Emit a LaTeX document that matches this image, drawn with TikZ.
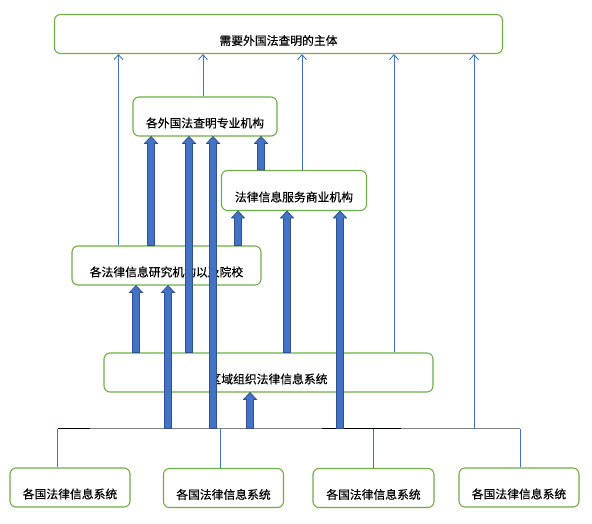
\documentclass[tikz,border=0pt]{standalone}
\usepackage{fontspec}
\setmainfont{Noto Sans CJK SC}
\newfontfamily\boxfont{Noto Sans CJK SC}[FakeBold=0.35]
\usetikzlibrary{arrows.meta,calc}
\definecolor{boxgreen}{HTML}{70AD47}
\definecolor{lineblue}{HTML}{4472C4}
\definecolor{edgeblue}{HTML}{2F528F}
\definecolor{busgray}{HTML}{808080}
\tikzset{
  box/.style={draw=boxgreen, line width=1.1pt, rounded corners=6pt, fill=white,
    inner sep=0pt, font=\boxfont\fontsize{11.8pt}{12pt}\selectfont, text height=22pt, text depth=0pt},
  thinarr/.style={draw=lineblue, line width=0.9pt, -{Straight Barb[length=5pt,width=9pt,line width=0.9pt]}},
  thinline/.style={draw=lineblue, line width=0.9pt},
  blockarr/.style={fill=lineblue, draw=edgeblue, line width=0.8pt, line join=miter},
  busline/.style={line width=1.2pt},
}
\newcommand\upblock[2]{%
  \path[blockarr] let \p1=#1, \p2=#2 in
    ({\x1-3.5pt},\y1) -- ({\x1-3.5pt},{\y2-7pt}) -- ({\x1-6.5pt},{\y2-7pt}) --
    (\x1,\y2) -- ({\x1+6.5pt},{\y2-7pt}) -- ({\x1+3.5pt},{\y2-7pt}) --
    ({\x1+3.5pt},\y1) -- cycle;}
\begin{document}
\begin{tikzpicture}[x=1pt,y=-1pt]
\useasboundingbox (0,0) rectangle (592,524);
% boxes
\node[box, minimum width=448pt, minimum height=39pt] (top) at (278.5,34) {需要外国法查明的主体};
\node[box, minimum width=144pt, minimum height=39pt] (spec) at (205,116.5) {各外国法查明专业机构};
\node[box, minimum width=145pt, minimum height=40pt] (comm) at (294,190.5) {法律信息服务商业机构};
\node[box, minimum width=189pt, minimum height=39pt] (res) at (166.5,265.5) {各法律信息研究机构以及院校};
\node[box, minimum width=329pt, minimum height=39pt] (reg) at (268.5,372.5) {区域组织法律信息系统};
\node[box, minimum width=120pt, minimum height=39pt] (b1) at (70,487.5) {各国法律信息系统};
\node[box, minimum width=120pt, minimum height=39pt] (b2) at (223.5,488) {各国法律信息系统};
\node[box, minimum width=121pt, minimum height=39pt] (b3) at (373.5,488) {各国法律信息系统};
\node[box, minimum width=120pt, minimum height=39pt] (b4) at (519,487.5) {各国法律信息系统};
% bus
\coordinate (busL) at (57.5,428.5);
\coordinate (busA) at (90,428.5);
\coordinate (busB) at (322,428.5);
\coordinate (busC) at (401,428.5);
\coordinate (busR) at (520,428.5);
\draw[busline, black] (busL) -- (busA);
\draw[busline, busgray] (busA) -- (busB);
\draw[busline, black] (busB) -- (busC);
\draw[busline, busgray] (busC) -- (busR);
% drops to the national systems
\draw[thinline] (busL) -- (57.5,0 |- b1.north);
\draw[thinline] (220,428.5) -- (220,0 |- b2.north);
\draw[thinline] (373,428.5) -- (373,0 |- b3.north);
\draw[thinline] (busR) -- (520,0 |- b4.north);
% thin arrows into the top box
\draw[thinarr] (118.5,0 |- res.north) -- (118.5,0 |- top.south);
\draw[thinarr] (203,0 |- spec.north) -- (203,0 |- top.south);
\draw[thinarr] (302,0 |- comm.north) -- (302,0 |- top.south);
\draw[thinarr] (394,0 |- reg.north) -- (394,0 |- top.south);
\draw[thinarr] (474,0 |- busL) -- (474,0 |- top.south);
% block arrows
\upblock{(151,0 |- res.north)}{(151,0 |- spec.south)}
\upblock{(189,0 |- reg.north)}{(189,0 |- spec.south)}
\upblock{(213,0 |- busL)}{(213,0 |- spec.south)}
\upblock{(261,0 |- comm.north)}{(261,0 |- spec.south)}
\upblock{(238,0 |- res.north)}{(238,0 |- comm.south)}
\upblock{(287,0 |- reg.north)}{(287,0 |- comm.south)}
\upblock{(340,0 |- busL)}{(340,0 |- comm.south)}
\upblock{(136,0 |- reg.north)}{(136,0 |- res.south)}
\upblock{(168,0 |- busL)}{(168,0 |- res.south)}
\upblock{(250,0 |- busL)}{(250,0 |- reg.south)}
\end{tikzpicture}
\end{document}
